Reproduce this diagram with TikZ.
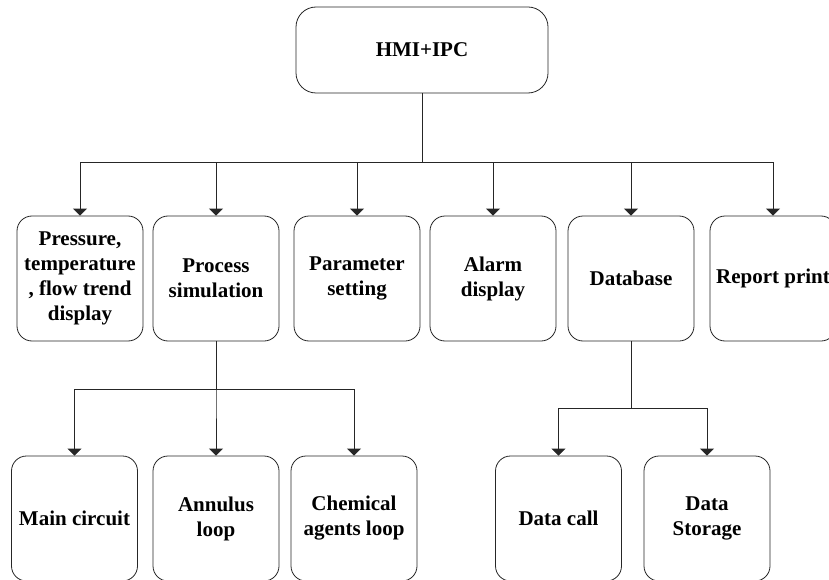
\documentclass[tikz,border=0pt]{standalone}
\usepackage{fontspec}
\setmainfont{Liberation Serif}
\usetikzlibrary{arrows.meta}
\begin{document}
\begin{tikzpicture}[x=1pt,y=-1pt,
  box/.style={draw=black!85,line width=0.8pt,rounded corners=15pt,
    minimum width=126pt,minimum height=125pt,inner sep=0pt,align=center,
    font=\fontsize{21}{25}\selectfont\bfseries},
  topbox/.style={box,rounded corners=20pt,minimum width=252pt,minimum height=86pt},
  arr/.style={draw=black!85,line width=0.8pt,-{Triangle[width=14pt,length=7pt]}},
  link/.style={draw=black!85,line width=0.8pt}]
\clip (0,0) rectangle (829,580);
\fill[white] (0,0) rectangle (829,580);

% root
\node[topbox] (top) at (422,50) {HMI+IPC};

% second level
\node[box] (b1) at (80,278.5)  {Pressure,\\temperature\\, flow trend\\display};
\node[box] (b2) at (216,278.5) {Process\\simulation};
\node[box] (b3) at (357,278.5) {Parameter\\setting};
\node[box] (b4) at (493,278.5) {Alarm\\display};
\node[box] (b5) at (631,278.5) {Database};
\node[box] (b6) at (773,278.5) {Report print};

% third level
\node[box] (c1) at (74.5,518.5) {Main circuit};
\node[box] (c2) at (216,518.5)  {Annulus\\loop};
\node[box] (c3) at (354,518.5)  {Chemical\\agents loop};
\node[box] (d1) at (558.5,518.5) {Data call};
\node[box] (d2) at (707,518.5)   {Data\\Storage};

% bus levels
\coordinate (busA) at (0,162);
\coordinate (busB) at (0,389);
\coordinate (busC) at (0,408);

\foreach \n in {b1,b2,b3,b4,b5,b6}
  \draw[arr] (top.south) -- (top.south |- busA) -| (\n.north);
\foreach \n in {c1,c2,c3}
  \draw[arr] (b2.south) -- (b2.south |- busB) -| (\n.north);
\foreach \n in {d1,d2}
  \draw[arr] (b5.south) -- (b5.south |- busC) -| (\n.north);
\end{tikzpicture}
\end{document}
